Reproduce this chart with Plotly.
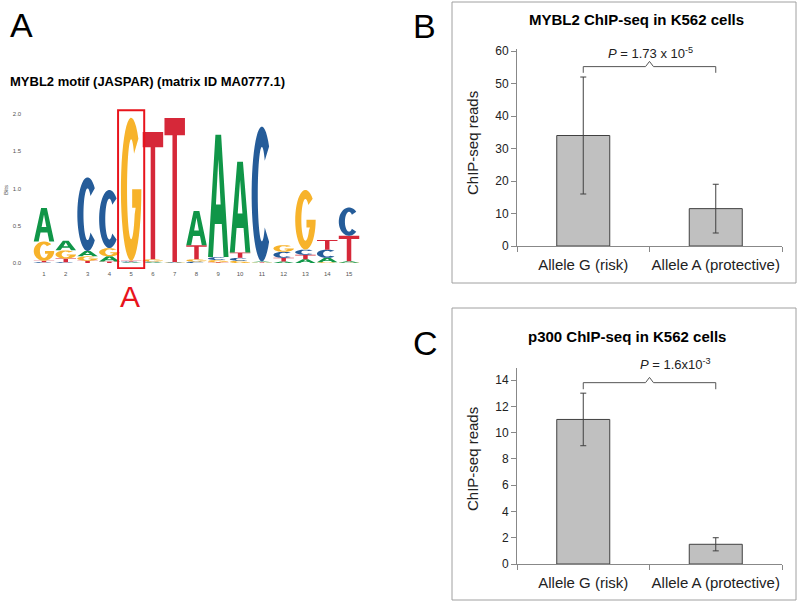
import numpy as np
import plotly.graph_objects as go

# ---------------- data ----------------
positions = list(range(1, 16))
bits_A = [0.45, 0.13, 0.07, 0.07, 0.01, 0.01, 0.005, 0.46, 1.64, 1.22, 0.01, 0.02, 0.05, 0.06, 0.02]
bits_C = [0.01, 0.01, 0.99, 0.78, 0.01, 0.01, 0.005, 0.02, 0.04, 0.04, 1.81, 0.08, 0.07, 0.11, 0.38]
bits_G = [0.26, 0.11, 0.06, 0.11, 1.92, 0.03, 0.005, 0.03, 0.03, 0.03, 0.005, 0.09, 0.80, 0.01, 0.005]
bits_T = [0.02, 0.05, 0.03, 0.02, 0.01, 1.71, 1.93, 0.19, 0.01, 0.07, 0.005, 0.05, 0.06, 0.13, 0.34]
highlight_pos = 5
logo_yticks = [0.0, 0.5, 1.0, 1.5, 2.0]

alleles = ["Allele G (risk)", "Allele A (protective)"]
mybl2_reads = [34, 11.5]
mybl2_err = [18, 7.5]
mybl2_yticks = [0, 10, 20, 30, 40, 50, 60]
p300_reads = [11, 1.5]
p300_err = [2, 0.5]
p300_yticks = [0, 2, 4, 6, 8, 10, 12, 14]

W, H = 800, 601
def px(x):
    return x / W
def py(y):
    return 1 - y / H

FONT = "Liberation Sans, Arial, Helvetica, sans-serif"
colors = {"A": "#109648", "C": "#255C99", "G": "#F7B32B", "T": "#D62839"}

# ---------------- glyphs (unit box) ----------------
def arc(cx, cy, rx, ry, a0, a1, n=40):
    t = np.radians(np.linspace(a0, a1, n))
    return [(cx + rx * np.cos(a), cy + ry * np.sin(a)) for a in t]

def glyph(letter):
    if letter == "A":
        outer = [(0, 0), (0.36, 1), (0.64, 1), (1, 0), (0.76, 0), (0.67, 0.27), (0.33, 0.27), (0.24, 0)]
        hole = [(0.385, 0.43), (0.615, 0.43), (0.5, 0.80)]
        return [outer, hole]
    if letter == "T":
        return [[(0, 1), (1, 1), (1, 0.88), (0.61, 0.88), (0.61, 0), (0.39, 0), (0.39, 0.88), (0, 0.88)]]
    if letter == "C":
        pts = arc(0.5, 0.5, 0.5, 0.5, 45, 315) + arc(0.5, 0.5, 0.2, 0.35, 315, 45)
        return [pts]
    if letter == "G":
        pts = arc(0.5, 0.5, 0.5, 0.5, 45, 360) + [(1.0, 0.5), (0.55, 0.5), (0.55, 0.37), (0.72, 0.37)] \
            + arc(0.5, 0.5, 0.2, 0.35, 330, 45)
        return [pts]

def glyph_path(letter, xc, base, h, w=0.94):
    s = ""
    for poly in glyph(letter):
        coords = [(xc - w / 2 + u * w, base + v * h) for u, v in poly]
        s += "M" + " L".join(f"{x:.4f},{y:.5f}" for x, y in coords) + " Z "
    return s

shapes = []
for i, pos in enumerate(positions):
    col = {"A": bits_A[i], "C": bits_C[i], "G": bits_G[i], "T": bits_T[i]}
    base = 0.0
    for letter, h in sorted(col.items(), key=lambda kv: kv[1]):
        if h > 0.003:
            shapes.append(dict(type="path", path=glyph_path(letter, pos, base, h),
                               xref="x", yref="y", fillcolor=colors[letter],
                               line=dict(width=0), layer="above"))
        base += h

# red highlight box
shapes.append(dict(type="rect", xref="x", yref="y", x0=highlight_pos - 0.6, x1=highlight_pos + 0.6,
                   y0=-0.07, y1=2.05, line=dict(color="#E8141C", width=2), fillcolor="rgba(0,0,0,0)"))

# panel boxes
shapes.append(dict(type="rect", xref="paper", yref="paper", x0=px(452), x1=px(796), y0=py(283), y1=py(2),
                   line=dict(color="#A0A0A0", width=1)))
shapes.append(dict(type="rect", xref="paper", yref="paper", x0=px(452), x1=px(796), y0=py(600), y1=py(308),
                   line=dict(color="#A0A0A0", width=1)))

# significance brackets
def bracket(xref, yref, ybar, ydown, yup):
    path = (f"M0,{ydown} L0,{ybar} L0.47,{ybar} L0.5,{yup} L0.53,{ybar} L1,{ybar} L1,{ydown}")
    return dict(type="path", path=path, xref=xref, yref=yref, line=dict(color="#555555", width=1))

shapes.append(bracket("x2", "y2", 55.2, 53.3, 56.8))
shapes.append(bracket("x3", "y3", 13.8, 13.3, 14.2))

fig = go.Figure()

idx = list(range(len(alleles)))
fig.add_trace(go.Bar(x=idx, y=mybl2_reads, xaxis="x2", yaxis="y2", width=0.4,
                     marker=dict(color="#C0C0C0", line=dict(color="#404040", width=1)),
                     error_y=dict(type="data", array=mybl2_err, color="#404040", thickness=1, width=3),
                     showlegend=False))
fig.add_trace(go.Bar(x=idx, y=p300_reads, xaxis="x3", yaxis="y3", width=0.4,
                     marker=dict(color="#C0C0C0", line=dict(color="#404040", width=1)),
                     error_y=dict(type="data", array=p300_err, color="#404040", thickness=1, width=3),
                     showlegend=False))
# invisible trace to activate logo axes
fig.add_trace(go.Scatter(x=[positions[0]], y=[0], mode="markers", marker=dict(opacity=0),
                         xaxis="x", yaxis="y", showlegend=False, hoverinfo="skip"))

tickfont_small = dict(family=FONT, size=6, color="#555555")
bar_x_axis = dict(range=[-0.5, 1.5], tickmode="array", tickvals=idx, ticktext=alleles, ticks="",
                  showline=True, linecolor="#888888", linewidth=1, showgrid=False, zeroline=False,
                  tickfont=dict(family=FONT, size=15, color="#222222"), ticklabelstandoff=5,
                  automargin=False,
                  minor=dict(tickmode="array", tickvals=[-0.5, 0.5, 1.5], ticks="outside",
                             ticklen=5, tickcolor="#888888", showgrid=False))

fig.update_layout(
    width=W, height=H, margin=dict(l=0, r=0, t=0, b=0, pad=0), autosize=False,
    paper_bgcolor="white", plot_bgcolor="rgba(0,0,0,0)",
    xaxis=dict(domain=[px(22.2), px(370.8)], range=[0, 16], tickmode="array", tickvals=positions,
               ticks="", showline=False, showgrid=False, zeroline=False, tickfont=tickfont_small,
               anchor="y", automargin=False),
    yaxis=dict(domain=[py(269), py(100)], range=[-0.08, 2.188], tickmode="array", tickvals=logo_yticks,
               tickformat=".1f", ticks="", showline=False, showgrid=False, zeroline=False,
               tickfont=tickfont_small, anchor="x", automargin=False),
    xaxis2=dict(domain=[px(517), px(782)], anchor="y2", **bar_x_axis),
    yaxis2=dict(domain=[py(246), py(49.4)], range=[0, 60.5], anchor="x2", tickmode="array",
                tickvals=mybl2_yticks, ticks="outside", ticklen=5, tickcolor="#888888",
                showline=True, linecolor="#888888", showgrid=False, zeroline=False, automargin=False,
                tickfont=dict(family=FONT, size=12, color="#222222")),
    xaxis3=dict(domain=[px(517), px(782)], anchor="y3", **bar_x_axis),
    yaxis3=dict(domain=[py(564), py(368.2)], range=[0, 14.9], anchor="x3", tickmode="array",
                tickvals=p300_yticks, ticks="outside", ticklen=5, tickcolor="#888888",
                showline=True, linecolor="#888888", showgrid=False, zeroline=False, automargin=False,
                tickfont=dict(family=FONT, size=12, color="#222222")),
    shapes=shapes,
)

ann = []
def A(text, x, y, size, bold=False, color="#000000", xanchor="center", angle=0):
    if bold:
        text = f"<b>{text}</b>"
    ann.append(dict(text=text, x=px(x), y=py(y), xref="paper", yref="paper", showarrow=False,
                    font=dict(family=FONT, size=size, color=color), xanchor=xanchor, yanchor="middle",
                    textangle=angle))

A("A", 8, 25, 34, xanchor="left")
A("B", 411, 26, 34, xanchor="left")
A("C", 411, 343, 34, xanchor="left")
A("MYBL2 motif (JASPAR) (matrix ID MA0777.1)", 8, 81, 13, bold=True, xanchor="left")
A("Bits", 6, 190, 6, color="#555555", angle=-90)
A("A", 130, 296, 30, color="#E8141C")
A("MYBL2 ChIP-seq in K562 cells", 636, 20, 15, bold=True)
A("p300 ChIP-seq in K562 cells", 627, 337, 15, bold=True)
A("ChIP-seq reads", 472, 143, 15, color="#222222", angle=-90)
A("ChIP-seq reads", 472, 459, 15, color="#222222", angle=-90)
A("<i>P</i> = 1.73 x 10<sup>-5</sup>", 650, 53, 13, color="#222222")
A("<i>P</i> = 1.6x10<sup>-3</sup>", 675, 364, 13, color="#222222")
fig.update_layout(annotations=ann)

fig.write_html("out.html", config={"displayModeBar": False},
               post_script="document.body.style.margin='0';document.body.style.overflow='hidden';")
